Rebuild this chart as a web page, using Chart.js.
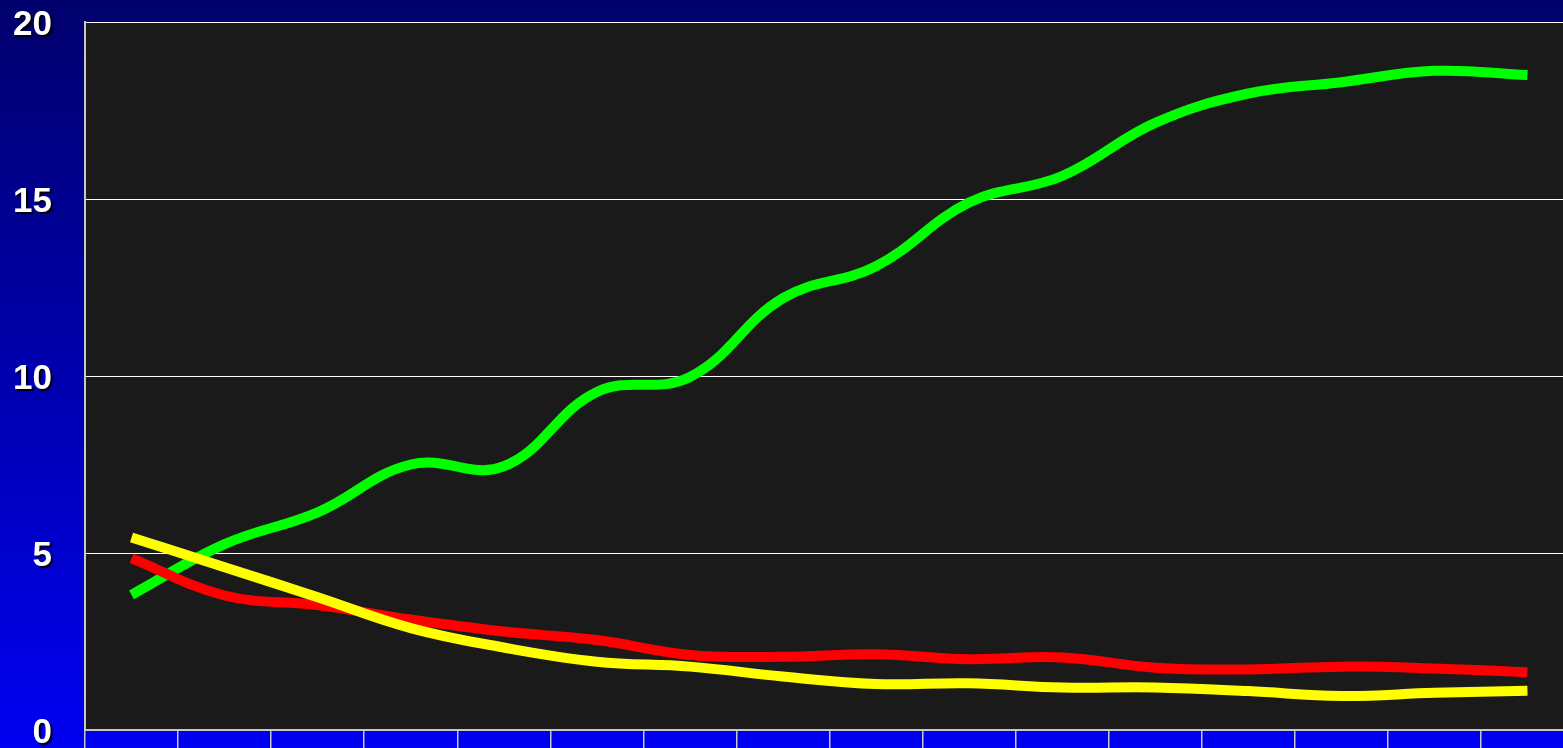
<!DOCTYPE html>
<html>
<head>
<meta charset="utf-8">
<script src="https://cdn.jsdelivr.net/npm/chart.js@4"></script>
<style>
  html, body {
    margin: 0;
    padding: 0;
    width: 1563px;
    height: 748px;
    overflow: hidden;
    background: linear-gradient(to bottom, #00006c 0%, #0000f2 100%);
  }
  canvas { display: block; }
</style>
</head>
<body>
<canvas id="chart" width="1574" height="748"></canvas>
<script>
// categories (x labels are not visible in the picture)
const categories = ["1", "2", "3", "4", "5", "6", "7", "8", "9", "10", "11", "12", "13", "14", "15", "16"];

// series values
const greenValues = [3.82, 5.25, 6.15, 7.5, 7.45, 9.55, 9.97, 12.2, 13.1, 14.9, 15.65, 17.15, 17.98, 18.3, 18.62, 18.5];
const redValues = [4.85, 3.8, 3.53, 3.12, 2.78, 2.54, 2.12, 2.07, 2.14, 2.0, 2.05, 1.76, 1.71, 1.79, 1.74, 1.63];
const yellowValues = [5.44, 4.6, 3.75, 2.88, 2.33, 1.93, 1.79, 1.51, 1.3, 1.32, 1.2, 1.2, 1.1, 0.96, 1.05, 1.11];

// y axis ticks
const yTicks = [0, 5, 10, 15, 20];

// dark plot background
const plotBackground = {
  id: "plotBackground",
  beforeDraw(chart) {
    const { ctx, chartArea: a } = chart;
    ctx.save();
    ctx.fillStyle = "#1a1a1a";
    ctx.fillRect(a.left, a.top, a.right - a.left, a.bottom - a.top);
    ctx.restore();
  }
};

// drop shadow behind the y tick labels
const shadowLabels = {
  id: "shadowLabels",
  beforeDraw(chart) {
    const sc = chart.scales.y;
    if (sc._shadowed) return;
    const orig = sc.drawLabels;
    sc.drawLabels = function (area) {
      const ctx = this.ctx;
      ctx.save();
      ctx.shadowColor = "rgba(0,0,0,0.95)";
      ctx.shadowOffsetX = 2;
      ctx.shadowOffsetY = 2;
      ctx.shadowBlur = 1;
      orig.call(this, area);
      ctx.restore();
    };
    sc._shadowed = true;
  }
};

function line(data, color, order) {
  return {
    data: data,
    borderColor: color,
    borderWidth: 10,
    borderCapStyle: "butt",
    pointRadius: 0,
    tension: 0.4,
    fill: false,
    order: order
  };
}

new Chart(document.getElementById("chart").getContext("2d"), {
  type: "line",
  data: {
    labels: categories,
    datasets: [
      line(greenValues, "#00ff00", 3),
      line(redValues, "#ff0000", 2),
      line(yellowValues, "#ffff00", 1)
    ]
  },
  options: {
    responsive: false,
    animation: false,
    layout: { padding: { top: 22, left: 0, right: 0, bottom: 0 } },
    plugins: {
      legend: { display: false },
      tooltip: { enabled: false }
    },
    scales: {
      x: {
        type: "category",
        offset: true,
        grid: {
          offset: true,
          drawOnChartArea: false,
          drawTicks: true,
          tickLength: 18,
          color: "#c8c8c8",
          lineWidth: 1.5
        },
        border: { color: "#c8c8c8", width: 2 },
        ticks: { display: false },
        afterFit(scale) {
          scale.paddingLeft = 0;
          scale.paddingRight = 0;
          scale.height = 18;
        }
      },
      y: {
        min: 0,
        max: 20,
        afterBuildTicks(scale) {
          scale.ticks = yTicks.map(v => ({ value: v }));
        },
        afterFit(scale) {
          scale.width = 85;
          scale.paddingTop = 0;
          scale.paddingBottom = 0;
        },
        grid: {
          color: "#ffffff",
          lineWidth: 1,
          drawTicks: false
        },
        border: { color: "#c8c8c8", width: 2 },
        ticks: {
          color: "#ffffff",
          padding: 33,
          labelOffset: 3,
          font: { family: "'Liberation Sans', Arial, sans-serif", size: 35, weight: "bold" }
        }
      }
    }
  },
  plugins: [plotBackground, shadowLabels]
});
</script>
</body>
</html>
